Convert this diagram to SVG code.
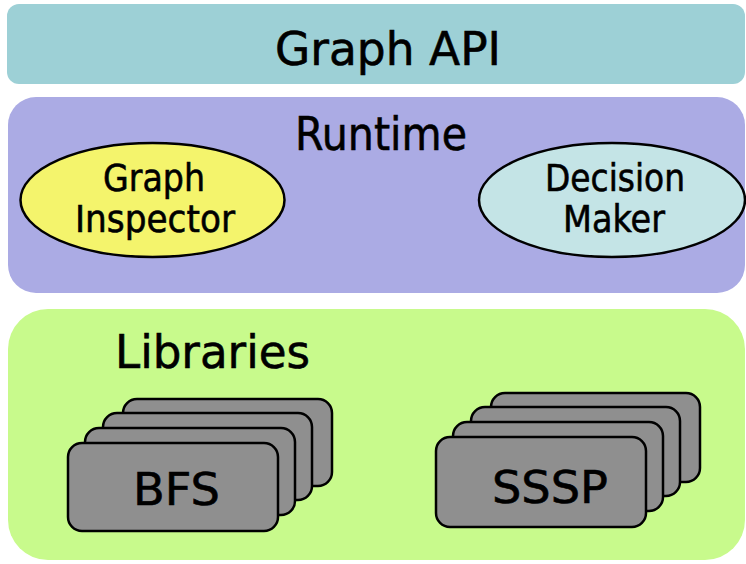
<svg xmlns="http://www.w3.org/2000/svg" width="746" height="564" viewBox="0 0 746 564">
<style>
text{font-family:"DejaVu Sans","Liberation Sans",sans-serif;fill:#000;stroke:#000;stroke-width:0.6}
.t{font-size:47px}
.e{font-size:37px}
.c{font-size:45px}
.card{fill:#8f8f8f;stroke:#000;stroke-width:2.5}
.ell{stroke:#000;stroke-width:2.5}
</style>
<rect width="746" height="564" fill="#fff"/>
<g id="graph-api">
<rect x="7" y="4" width="738" height="80" rx="12" fill="#9dd0d6"/>
<text class="t" x="275" y="65" textLength="226" lengthAdjust="spacingAndGlyphs">Graph API</text>
</g>
<g id="runtime">
<rect x="8" y="97" width="737" height="196" rx="28" fill="#ababe4"/>
<text class="t" x="295" y="150" textLength="172" lengthAdjust="spacingAndGlyphs">Runtime</text>
</g>
<g id="graph-inspector">
<ellipse class="ell" cx="152.5" cy="200" rx="132" ry="57" fill="#f4f46c"/>
<text class="e" x="103" y="191" textLength="102" lengthAdjust="spacingAndGlyphs">Graph</text>
<text class="e" x="75" y="232" textLength="160" lengthAdjust="spacingAndGlyphs">Inspector</text>
</g>
<g id="decision-maker">
<ellipse class="ell" cx="612" cy="200" rx="133" ry="57" fill="#c4e4e6"/>
<text class="e" x="545" y="191" textLength="140" lengthAdjust="spacingAndGlyphs">Decision</text>
<text class="e" x="563" y="232" textLength="102" lengthAdjust="spacingAndGlyphs">Maker</text>
</g>
<g id="libraries">
<rect x="8" y="309" width="737" height="251" rx="40" fill="#c8fa8c"/>
<text class="t" x="115" y="368" textLength="195" lengthAdjust="spacingAndGlyphs">Libraries</text>
</g>
<g id="bfs">
<rect class="card" x="123" y="399" width="209" height="87" rx="14"/>
<rect class="card" x="103" y="413" width="209" height="87" rx="14"/>
<rect class="card" x="85" y="428" width="210" height="87" rx="14"/>
<rect class="card" x="68" y="443" width="210" height="88" rx="14"/>
<text class="c" x="133" y="505" textLength="87" lengthAdjust="spacingAndGlyphs">BFS</text>
</g>
<g id="sssp">
<rect class="card" x="491" y="393" width="209" height="89" rx="14"/>
<rect class="card" x="471" y="407" width="209" height="89" rx="14"/>
<rect class="card" x="453" y="422" width="210" height="89" rx="14"/>
<rect class="card" x="436" y="437" width="210" height="90" rx="14"/>
<text class="c" x="492" y="503" textLength="116" lengthAdjust="spacingAndGlyphs">SSSP</text>
</g>
<g id="connectors"/>
</svg>
